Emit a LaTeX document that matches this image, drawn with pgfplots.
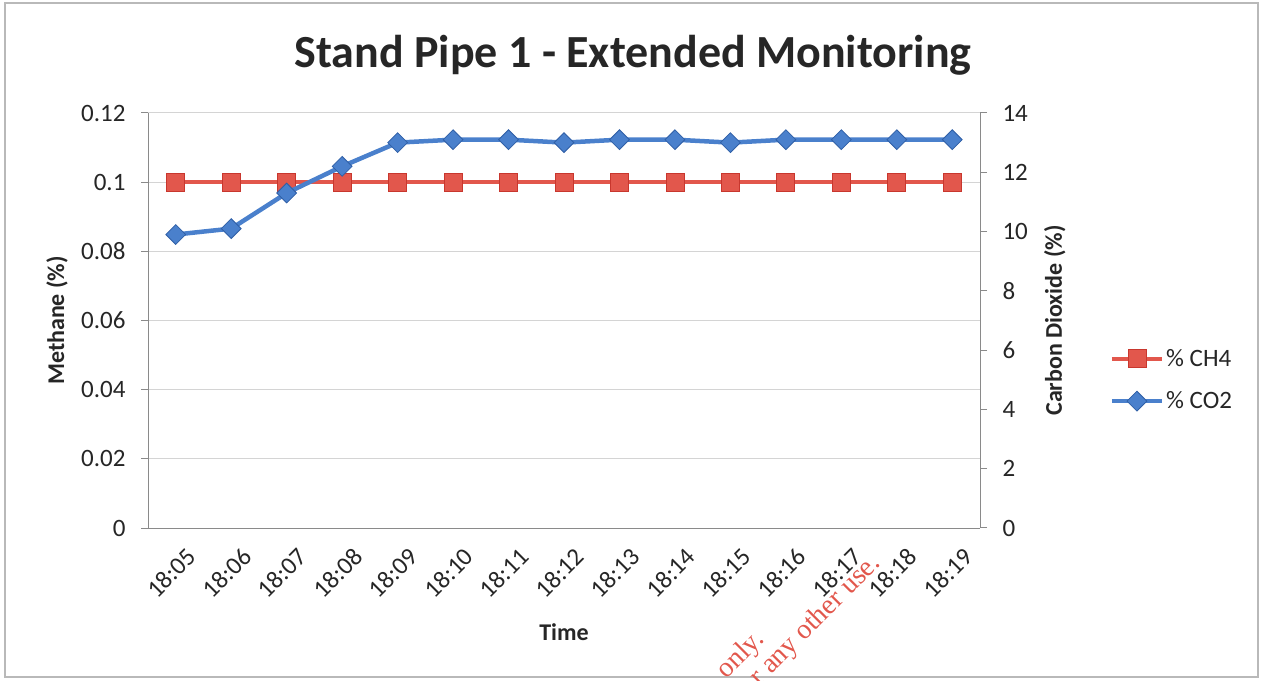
\documentclass[border=0pt]{standalone}
\usepackage{fontspec}
\setmainfont{Carlito}
\newfontfamily\wmfont{Liberation Serif}
\usepackage{pgfplots}
\pgfplotsset{compat=1.18}
\definecolor{chred}{HTML}{E2574C}
\definecolor{chredd}{HTML}{C8372E}
\definecolor{coblue}{HTML}{4A80CC}
\definecolor{cobluedd}{HTML}{2F5FA6}
\definecolor{gridc}{HTML}{D4D4D4}
\definecolor{axc}{HTML}{8A8A8A}
\definecolor{txt}{HTML}{262626}
\begin{document}
\begin{tikzpicture}
\path[use as bounding box] (0pt,0pt) rectangle (1263pt,680pt);
\draw[gray!55, line width=1.5pt] (5pt,3pt) rectangle (1258pt,677pt);
\node[font=\bfseries\fontsize{46}{52}\selectfont, text=txt] at (633pt,625pt) {Stand Pipe 1 - Extended Monitoring};
\begin{axis}[
  at={(148pt,152pt)}, anchor=south west,
  scale only axis, width=832pt, height=415pt,
  xmin=-0.5, xmax=14.5, ymin=0, ymax=0.12,
  axis line style={axc, line width=1pt},
  axis x line*=bottom, axis y line*=left,
  ytick={0,0.02,0.04,0.06,0.08,0.1,0.12},
  yticklabels={0,0.02,0.04,0.06,0.08,0.1,0.12},
  ymajorgrids, grid style={gridc, line width=1pt},
  xtick={0,...,14},
  xticklabels={18:05,18:06,18:07,18:08,18:09,18:10,18:11,18:12,18:13,18:14,18:15,18:16,18:17,18:18,18:19},
  x tick style={draw=none},
  extra x ticks={-0.5,0.5,1.5,2.5,3.5,4.5,5.5,6.5,7.5,8.5,9.5,10.5,11.5,12.5,13.5,14.5},
  extra x tick labels={},
  extra x tick style={tick style={axc, line width=1pt, draw=axc}, major tick length=7pt, tick align=outside, grid=none},
  y tick style={axc, line width=1pt}, major tick length=7pt, tick align=outside,
  xticklabel style={rotate=45, anchor=east, xshift=2pt, yshift=-24pt},
  yticklabel style={xshift=-12pt},
  tick label style={font=\fontsize{25}{29}\selectfont, text=txt},
  /pgf/number format/assume math mode=true,
  ylabel={\bfseries Methane (\%)}, xlabel={\bfseries Time},
  label style={font=\fontsize{24}{28}\selectfont, text=txt},
  ylabel style={at={(axis description cs:-0.1094,0.5)}, anchor=center},
  xlabel style={at={(axis description cs:0.5,-0.25)}, anchor=center},
  clip=false,
]
\addplot[chred, line width=4pt, mark=square*, mark size=9pt, mark options={fill=chred, draw=chredd, line width=0.8pt}]
 coordinates {(0,0.1)(1,0.1)(2,0.1)(3,0.1)(4,0.1)(5,0.1)(6,0.1)(7,0.1)(8,0.1)(9,0.1)(10,0.1)(11,0.1)(12,0.1)(13,0.1)(14,0.1)};
\end{axis}
\begin{axis}[
  at={(148pt,152pt)}, anchor=south west,
  scale only axis, width=832pt, height=415pt,
  xmin=-0.5, xmax=14.5, ymin=0, ymax=14,
  axis x line=none, axis y line*=right,
  axis line style={axc, line width=1pt},
  ytick={0,2,...,14},
  y tick style={axc, line width=1pt}, major tick length=7pt, tick align=outside,
  yticklabel style={xshift=12pt},
  tick label style={font=\fontsize{25}{29}\selectfont, text=txt},
  /pgf/number format/assume math mode=true,
  ylabel={\bfseries Carbon Dioxide (\%)},
  label style={font=\fontsize{24}{28}\selectfont, text=txt},
  ylabel style={at={(axis description cs:1.090,0.5)}, anchor=center, rotate=0},
  legend style={at={(axis description cs:1.152,0.357)}, anchor=west, draw=none, fill=none,
    font=\fontsize{25}{29}\selectfont, text=txt, row sep=20pt},
  legend cell align=left,
  legend image code/.code={\draw[#1, mark repeat=2, mark phase=2] plot coordinates {(0pt,0pt) (25pt,0pt) (50pt,0pt)};},
  clip=false,
]
\addlegendimage{chred, line width=4pt, mark=square*, mark size=9pt, mark options={fill=chred, draw=chredd, line width=0.8pt}}
\addlegendentry{\% CH4}
\addplot[coblue, line width=4.5pt, mark=square*, mark size=7pt, mark options={fill=coblue, draw=cobluedd, line width=0.8pt, rotate=45}]
 coordinates {(0,9.9)(1,10.1)(2,11.3)(3,12.2)(4,13.0)(5,13.1)(6,13.1)(7,13.0)(8,13.1)(9,13.1)(10,13.0)(11,13.1)(12,13.1)(13,13.1)(14,13.1)};
\addlegendentry{\% CO2}
\end{axis}
\begin{scope}
\clip (0pt,0pt) rectangle (1263pt,680pt);
\node[font=\wmfont\fontsize{28}{32}\selectfont, text=chred, rotate=45, anchor=base west] at (724pt,-2pt) {only.};
\node[font=\wmfont\fontsize{28}{32}\selectfont, text=chred, rotate=45, anchor=base west] at (757pt,-9pt) {r any other use.};
\end{scope}
\end{tikzpicture}
\end{document}
